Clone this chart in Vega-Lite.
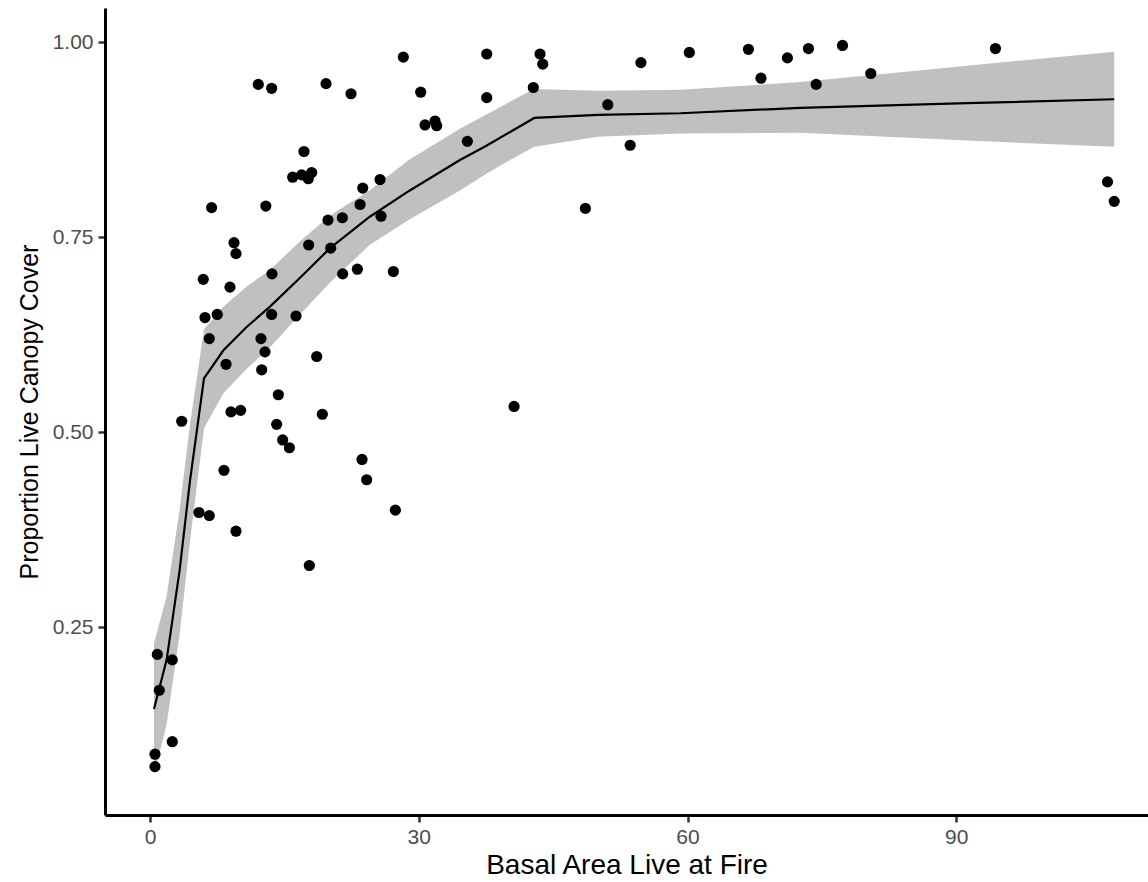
{
  "$schema": "https://vega.github.io/schema/vega-lite/v6.json",
  "width": 1043,
  "height": 807,
  "autosize": {"type": "none"},
  "padding": {"left": 105, "top": 8, "right": 0, "bottom": 67},
  "background": "white",
  "config": {
    "view": {"stroke": null},
    "font": "Liberation Sans",
    "axis": {
      "grid": false,
      "domainColor": "#000000",
      "domainWidth": 3,
      "tickColor": "#333333",
      "tickWidth": 2.5,
      "tickSize": 7,
      "labelColor": "#4D4D4D",
      "labelFontSize": 21,
      "titleColor": "#000000",
      "titleFontWeight": "normal",
      "labelFont": "Liberation Sans",
      "titleFont": "Liberation Sans"
    }
  },
  "datasets": {
    "pts": [
      {"x": 0.56, "y": 0.071}, {"x": 0.56, "y": 0.087}, {"x": 0.82, "y": 0.215}, {"x": 1.04, "y": 0.169},
      {"x": 2.49, "y": 0.208}, {"x": 2.49, "y": 0.103}, {"x": 3.54, "y": 0.514}, {"x": 5.47, "y": 0.397},
      {"x": 6.62, "y": 0.393}, {"x": 5.95, "y": 0.696}, {"x": 6.14, "y": 0.647}, {"x": 6.62, "y": 0.62},
      {"x": 6.88, "y": 0.788}, {"x": 7.51, "y": 0.651}, {"x": 8.49, "y": 0.587}, {"x": 8.26, "y": 0.451},
      {"x": 8.93, "y": 0.686}, {"x": 9.04, "y": 0.526}, {"x": 9.38, "y": 0.743}, {"x": 9.6, "y": 0.729},
      {"x": 10.12, "y": 0.528}, {"x": 9.6, "y": 0.373}, {"x": 12.09, "y": 0.946}, {"x": 13.58, "y": 0.941},
      {"x": 12.93, "y": 0.79}, {"x": 12.39, "y": 0.62}, {"x": 12.84, "y": 0.603}, {"x": 12.47, "y": 0.58},
      {"x": 13.62, "y": 0.703}, {"x": 13.58, "y": 0.651}, {"x": 14.33, "y": 0.548}, {"x": 14.14, "y": 0.51},
      {"x": 14.81, "y": 0.49}, {"x": 15.56, "y": 0.48}, {"x": 16.3, "y": 0.649}, {"x": 15.93, "y": 0.827},
      {"x": 17.19, "y": 0.86}, {"x": 16.93, "y": 0.83}, {"x": 17.67, "y": 0.825}, {"x": 18.05, "y": 0.833},
      {"x": 17.71, "y": 0.74}, {"x": 17.79, "y": 0.329}, {"x": 18.61, "y": 0.597}, {"x": 19.24, "y": 0.523},
      {"x": 19.65, "y": 0.947}, {"x": 19.87, "y": 0.772}, {"x": 20.17, "y": 0.736}, {"x": 21.47, "y": 0.775},
      {"x": 21.51, "y": 0.703}, {"x": 22.44, "y": 0.934}, {"x": 23.15, "y": 0.709}, {"x": 23.45, "y": 0.792},
      {"x": 23.75, "y": 0.813}, {"x": 23.67, "y": 0.465}, {"x": 24.19, "y": 0.439}, {"x": 25.68, "y": 0.824},
      {"x": 25.79, "y": 0.777}, {"x": 27.17, "y": 0.706}, {"x": 27.39, "y": 0.4}, {"x": 28.28, "y": 0.981},
      {"x": 30.22, "y": 0.936}, {"x": 30.7, "y": 0.894}, {"x": 31.82, "y": 0.899}, {"x": 32.0, "y": 0.893},
      {"x": 35.43, "y": 0.873}, {"x": 37.59, "y": 0.929}, {"x": 37.59, "y": 0.985}, {"x": 40.64, "y": 0.533},
      {"x": 42.79, "y": 0.942}, {"x": 43.54, "y": 0.985}, {"x": 43.84, "y": 0.972}, {"x": 48.6, "y": 0.787},
      {"x": 51.1, "y": 0.92}, {"x": 53.6, "y": 0.868}, {"x": 54.8, "y": 0.974}, {"x": 60.2, "y": 0.987},
      {"x": 66.8, "y": 0.991}, {"x": 68.2, "y": 0.954}, {"x": 71.15, "y": 0.98}, {"x": 73.5, "y": 0.992},
      {"x": 74.36, "y": 0.946}, {"x": 77.3, "y": 0.996}, {"x": 80.46, "y": 0.96}, {"x": 94.37, "y": 0.992},
      {"x": 106.88, "y": 0.821}, {"x": 107.63, "y": 0.796}
    ],
    "fit": [
      {"x": 0.45, "fit": 0.145, "lo": 0.061, "hi": 0.229},
      {"x": 1.86, "fit": 0.208, "lo": 0.125, "hi": 0.29},
      {"x": 3.3, "fit": 0.322, "lo": 0.24, "hi": 0.4},
      {"x": 4.47, "fit": 0.438, "lo": 0.36, "hi": 0.51},
      {"x": 6.03, "fit": 0.569, "lo": 0.505, "hi": 0.632},
      {"x": 8.2, "fit": 0.605, "lo": 0.55, "hi": 0.661},
      {"x": 10.7, "fit": 0.634, "lo": 0.58, "hi": 0.686},
      {"x": 13.4, "fit": 0.661, "lo": 0.609, "hi": 0.708},
      {"x": 16.75, "fit": 0.698, "lo": 0.651, "hi": 0.745},
      {"x": 20.1, "fit": 0.736, "lo": 0.692, "hi": 0.778},
      {"x": 24.5, "fit": 0.776, "lo": 0.74, "hi": 0.81},
      {"x": 29.0, "fit": 0.81, "lo": 0.773, "hi": 0.85},
      {"x": 34.6, "fit": 0.849, "lo": 0.81, "hi": 0.889},
      {"x": 37.5, "fit": 0.867, "lo": 0.831, "hi": 0.907},
      {"x": 40.2, "fit": 0.885, "lo": 0.849, "hi": 0.924},
      {"x": 42.9, "fit": 0.903, "lo": 0.866, "hi": 0.94},
      {"x": 50.0, "fit": 0.907, "lo": 0.879, "hi": 0.938},
      {"x": 59.2, "fit": 0.909, "lo": 0.883, "hi": 0.939},
      {"x": 72.6, "fit": 0.916, "lo": 0.884, "hi": 0.949},
      {"x": 91.2, "fit": 0.922, "lo": 0.874, "hi": 0.97},
      {"x": 107.63, "fit": 0.927, "lo": 0.866, "hi": 0.988}
    ]
  },
  "encoding": {
    "x": {
      "field": "x",
      "type": "quantitative",
      "scale": {"domain": [-5.02, 111.4], "nice": false, "zero": false},
      "axis": {"title": "Basal Area Live at Fire", "values": [0, 30, 60, 90], "titleFontSize": 28, "labelPadding": 4, "titlePadding": 4}
    }
  },
  "layer": [
    {
      "data": {"name": "fit"},
      "mark": {"type": "area", "color": "#C0C0C0", "opacity": 1},
      "encoding": {
        "y": {
          "field": "lo",
          "type": "quantitative",
          "scale": {"domain": [0.009, 1.044], "nice": false, "zero": false},
          "axis": {"title": "Proportion Live Canopy Cover", "values": [0.25, 0.5, 0.75, 1.0], "format": ".2f", "titleFontSize": 25, "labelPadding": 5, "titlePadding": 10}
        },
        "y2": {"field": "hi"}
      }
    },
    {
      "data": {"name": "fit"},
      "mark": {"type": "line", "color": "#000000", "strokeWidth": 2.2},
      "encoding": {
        "y": {
          "field": "fit",
          "type": "quantitative",
          "scale": {"domain": [0.009, 1.044], "nice": false, "zero": false},
          "axis": {"title": "Proportion Live Canopy Cover", "values": [0.25, 0.5, 0.75, 1.0], "format": ".2f", "titleFontSize": 25, "labelPadding": 5, "titlePadding": 10}
        }
      }
    },
    {
      "data": {"name": "pts"},
      "mark": {"type": "point", "filled": true, "color": "#000000", "opacity": 1, "size": 125},
      "encoding": {
        "y": {
          "field": "y",
          "type": "quantitative",
          "scale": {"domain": [0.009, 1.044], "nice": false, "zero": false},
          "axis": {"title": "Proportion Live Canopy Cover", "values": [0.25, 0.5, 0.75, 1.0], "format": ".2f", "titleFontSize": 25, "labelPadding": 5, "titlePadding": 10}
        }
      }
    }
  ]
}
